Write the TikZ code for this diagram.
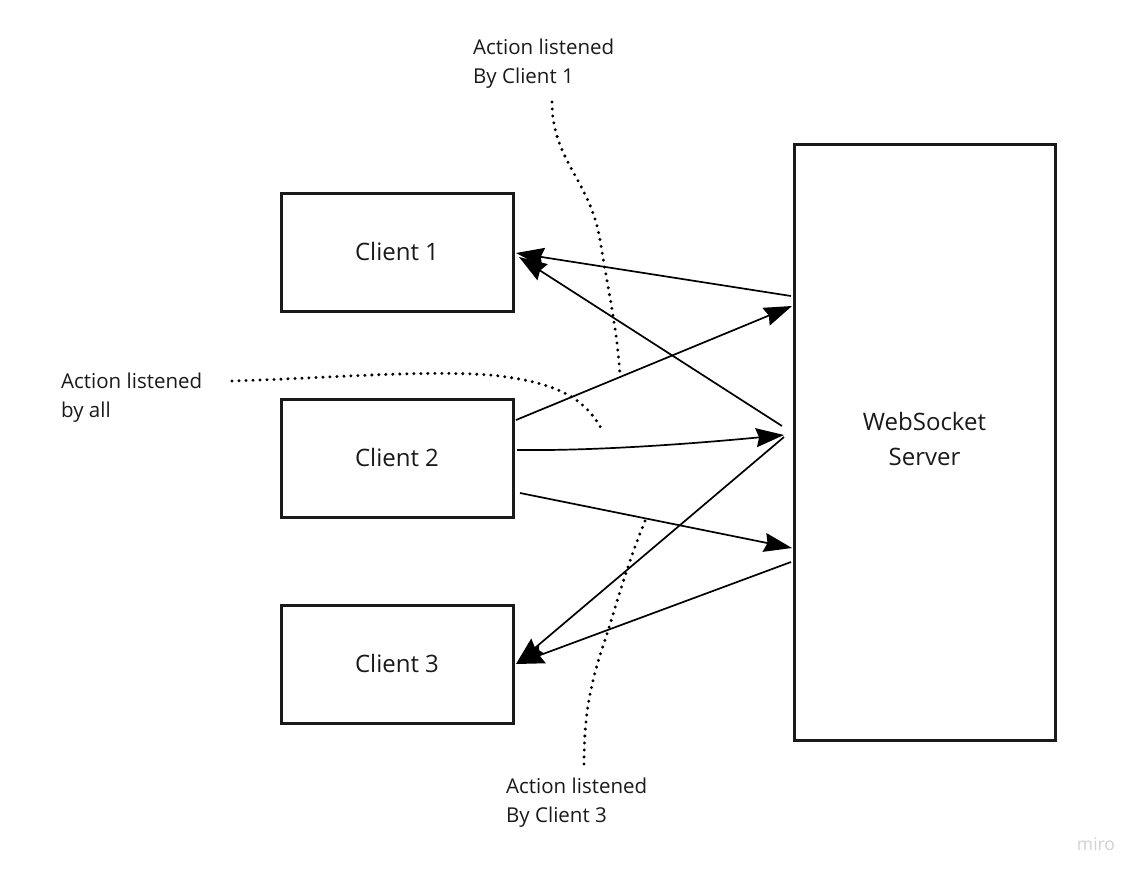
\documentclass[tikz,border=0pt]{standalone}
\usepackage{fontspec}
\setmainfont{Open Sans}
\usetikzlibrary{arrows.meta}
\definecolor{ink}{HTML}{1A1A1A}
\begin{document}
\begin{tikzpicture}[x=1pt,y=-1pt,
  box/.style={draw=ink,line width=3pt,inner sep=0pt,font=\fontsize{24}{35}\selectfont,text=ink,align=center},
  lbl/.style={font=\fontsize{20.5}{29}\selectfont,text=ink,align=left,anchor=north west,inner sep=0pt},
  conn/.style={line width=1.7pt,draw=black,-{Stealth[length=28pt,width=19pt,inset=3pt]}},
  dot/.style={line width=3.3pt,dash pattern=on 0pt off 7pt,line cap=round}]
\useasboundingbox (0,0) rectangle (1140,876);
\fill[white] (0,0) rectangle (1140,876);
\node[box,minimum width=232pt,minimum height=118pt] (c1) at (397,252) {\raisebox{2pt}{Client 1}};
\node[box,minimum width=232pt,minimum height=118pt] (c2) at (397,458) {\raisebox{2pt}{Client 2}};
\node[box,minimum width=232pt,minimum height=118pt] (c3) at (397,664) {\raisebox{2pt}{Client 3}};
\node[box,minimum width=261pt,minimum height=596pt] (srv) at (924.5,442) {};
\node[font=\fontsize{24}{35}\selectfont,text=ink,align=center,inner sep=0pt] (srvtxt) at (924.5,439) {WebSocket\\Server};
% connector end points
\coordinate (s1) at (791,296);
\coordinate (s2) at (782,426);
\coordinate (s3) at (792,306);
\coordinate (s4) at (784,435);
\coordinate (s5) at (792,548);
\coordinate (s6) at (784,437);
\coordinate (s7) at (791,562);
\coordinate (a1) at (516,420);
\coordinate (a2) at (517,450);
\coordinate (a3) at (520,493);
\coordinate (t1) at (516,253);
\coordinate (t2) at (519,257);
\coordinate (t3) at (516,664);
\draw[conn] (s1) -- (t1);
\draw[conn] (s2) -- (t2);
\draw[conn] (a1) -- (s3);
\draw[conn] (a2) .. controls (600,451) and (700,443) .. (s4);
\draw[conn] (a3) -- (s5);
\draw[conn] (s6) -- (t3);
\draw[conn] (s7) -- (t3);
% labels
\node[lbl] (l1) at (473,39) {Action listened\\By Client 1};
\node[lbl] (l2) at (61,373) {Action listened\\by all};
\node[lbl] (l3) at (506,778) {Action listened\\By Client 3};
\node[font=\fontsize{17.5}{17.5}\selectfont,text=black!18,inner sep=0pt] (miro) at (1096,844) {miro};
% dotted curves
\coordinate (d1) at (552,102);
\coordinate (d1e) at (620,375);
\draw[dot] (d1) .. controls (552,160) and (590,180) .. (600,240) .. controls (610,300) and (617,330) .. (d1e);
\coordinate (d2) at (232,381);
\coordinate (d2e) at (601,428);
\draw[dot] (d2) .. controls (330,378) and (420,370) .. (490,375) .. controls (560,382) and (585,400) .. (d2e);
\coordinate (d3) at (645,521);
\coordinate (d3e) at (584,770);
\draw[dot] (d3) .. controls (625,570) and (615,610) .. (605,640) .. controls (588,690) and (584,720) .. (d3e);
\end{tikzpicture}
\end{document}
